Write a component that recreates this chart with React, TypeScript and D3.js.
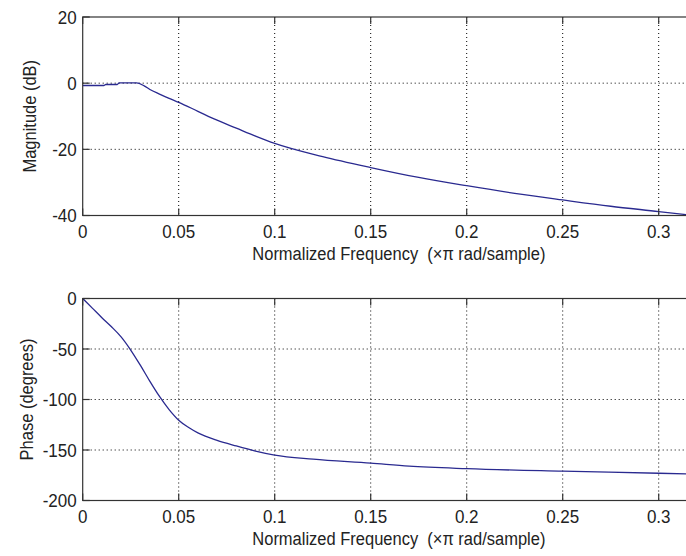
import { useEffect, useRef } from "react";
import * as d3 from "d3";

// magnitude response (dB)
const magFreq = [0, 0.011, 0.012, 0.018, 0.019, 0.028, 0.032, 0.035, 0.04, 0.045, 0.05, 0.06, 0.07, 0.08, 0.09, 0.1, 0.125, 0.15, 0.175, 0.2, 0.225, 0.25, 0.275, 0.3, 0.33];
const magDb = [-0.7, -0.7, -0.4, -0.4, 0.1, 0.1, -0.8, -1.9, -3.3, -4.6, -5.8, -8.5, -11.2, -13.6, -16, -18.2, -22.2, -25.5, -28.5, -31, -33.3, -35.3, -37.2, -38.8, -40.8];

// phase response (degrees)
const phaseFreq = [0, 0.005, 0.01, 0.015, 0.02, 0.025, 0.03, 0.035, 0.04, 0.045, 0.05, 0.055, 0.06, 0.07, 0.08, 0.09, 0.1, 0.12, 0.15, 0.17, 0.2, 0.25, 0.3, 0.33];
const phaseDeg = [0, -9.5, -19, -28, -38, -51, -66, -82, -97, -110, -120.5, -127.5, -133, -140.5, -146, -151, -155, -159, -163, -166, -168.5, -171, -173, -174.5];

const xTicks = [0, 0.05, 0.1, 0.15, 0.2, 0.25, 0.3];
const magTicks = [20, 0, -20, -40];
const phaseTicks = [0, -50, -100, -150, -200];

const xLabel = "Normalized Frequency  (\u00d7\u03c0 rad/sample)";

const W = 686;
const H = 556;
const FONT = "'Liberation Sans', Arial, sans-serif";
const LINE = "#2a2a90";

function drawPanel(svg, opts) {
    const { top, bottom, yDomain, yTicks, xs, ys, yLabel, yLabelX, id } = opts;
    const left = 82.7;
    const right = 715;

    const x = d3.scaleLinear().domain([0, (right - left) / 1920]).range([left, right]);
    const y = d3.scaleLinear().domain(yDomain).range([bottom, top]);

    const g = svg.append("g");

    g.append("clipPath").attr("id", id)
        .append("rect")
        .attr("x", left).attr("y", top)
        .attr("width", right - left).attr("height", bottom - top);

    // grid
    g.selectAll(".gx").data(xTicks.slice(1)).enter().append("line")
        .attr("x1", (d) => x(d)).attr("x2", (d) => x(d))
        .attr("y1", top).attr("y2", bottom)
        .attr("stroke", "#000").attr("stroke-width", 1)
        .attr("stroke-dasharray", "1,3");
    g.selectAll(".gy").data(yTicks.slice(1, -1)).enter().append("line")
        .attr("x1", left).attr("x2", right)
        .attr("y1", (d) => y(d)).attr("y2", (d) => y(d))
        .attr("stroke", "#000").attr("stroke-width", 1)
        .attr("stroke-dasharray", "1,3");

    // curve
    const pts = xs.map((f, i) => [f, ys[i]]);
    g.append("path")
        .datum(pts)
        .attr("clip-path", `url(#${id})`)
        .attr("fill", "none")
        .attr("stroke", LINE)
        .attr("stroke-width", 1.3)
        .attr("d", d3.line().x((d) => x(d[0])).y((d) => y(d[1])).curve(d3.curveMonotoneX));

    // box
    g.append("rect")
        .attr("x", left).attr("y", top)
        .attr("width", right - left).attr("height", bottom - top)
        .attr("fill", "none").attr("stroke", "#333").attr("stroke-width", 1.2);

    // inward ticks
    xTicks.forEach((t) => {
        g.append("line").attr("x1", x(t)).attr("x2", x(t)).attr("y1", bottom).attr("y2", bottom - 7)
            .attr("stroke", "#333").attr("stroke-width", 1.2);
        g.append("line").attr("x1", x(t)).attr("x2", x(t)).attr("y1", top).attr("y2", top + 7)
            .attr("stroke", "#333").attr("stroke-width", 1.2);
    });
    yTicks.forEach((t) => {
        g.append("line").attr("x1", left).attr("x2", left + 7).attr("y1", y(t)).attr("y2", y(t))
            .attr("stroke", "#333").attr("stroke-width", 1.2);
    });

    // tick labels
    xTicks.forEach((t) => {
        g.append("text")
            .attr("transform", `translate(${x(t)},${bottom + 22}) scale(1,1.1)`)
            .attr("text-anchor", "middle")
            .attr("font-family", FONT).attr("font-size", 17)
            .attr("fill", "#222")
            .text(String(t));
    });
    yTicks.forEach((t) => {
        g.append("text")
            .attr("transform", `translate(${left - 6},${y(t) + 6.5}) scale(1,1.1)`)
            .attr("text-anchor", "end")
            .attr("font-family", FONT).attr("font-size", 17)
            .attr("fill", "#222")
            .text(String(t));
    });

    // axis labels
    g.append("text")
        .attr("transform", `translate(${(left + right) / 2},${bottom + 44}) scale(1,1.1)`)
        .attr("text-anchor", "middle")
        .attr("font-family", FONT).attr("font-size", 16.5)
        .attr("fill", "#222")
        .style("white-space", "pre")
        .text(xLabel);
    g.append("text")
        .attr("transform", `translate(${yLabelX},${(top + bottom) / 2}) rotate(-90) scale(1,1.1)`)
        .attr("text-anchor", "middle")
        .attr("font-family", FONT).attr("font-size", 16.5)
        .attr("fill", "#222")
        .text(yLabel);
}

export default function App() {
    const ref = useRef(null);

    useEffect(() => {
        const svg = d3.select(ref.current);
        svg.selectAll("*").remove();

        drawPanel(svg, {
            id: "clipMag",
            top: 17, bottom: 215.5,
            yDomain: [-40, 20], yTicks: magTicks,
            xs: magFreq, ys: magDb,
            yLabel: "Magnitude (dB)", yLabelX: 36,
        });
        drawPanel(svg, {
            id: "clipPhase",
            top: 298.5, bottom: 500.5,
            yDomain: [-200, 0], yTicks: phaseTicks,
            xs: phaseFreq, ys: phaseDeg,
            yLabel: "Phase (degrees)", yLabelX: 33,
        });
    }, []);

    return (
        <svg
            ref={ref}
            width={W}
            height={H}
            style={{ position: "absolute", left: 0, top: 0, background: "#fff", display: "block" }}
        />
    );
}
